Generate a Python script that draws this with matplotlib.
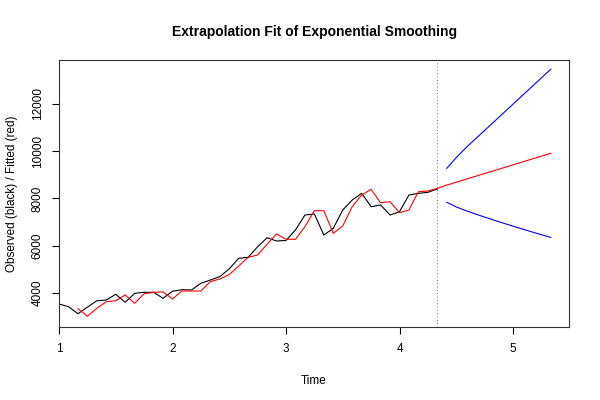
import matplotlib
matplotlib.use("Agg")
import matplotlib.pyplot as plt
import numpy as np

plt.rcParams['font.family'] = ['Liberation Sans', 'DejaVu Sans']

# monthly series, start = 1, frequency = 12
start = 1.0
freq = 12

observed = [3536, 3423, 3125, 3400, 3675, 3704, 3945, 3607, 3987, 4030,
            4030, 3776, 4075, 4140, 4127, 4409, 4549, 4690, 5020, 5466,
            5508, 5957, 6337, 6198, 6220, 6663, 7296, 7338, 6451, 6733,
            7508, 7930, 8212, 7647, 7719, 7296, 7436, 8142, 8212, 8255,
            8395]
# fitted values begin at the 3rd observation
fitted = [3337, 3020, 3353, 3633, 3675, 3916, 3565, 3970, 4030, 4045,
          3747, 4085, 4085, 4085, 4478, 4591, 4780, 5141, 5508, 5606,
          6058, 6493, 6275, 6268, 6803, 7479, 7479, 6522, 6832, 7647,
          8142, 8381, 7816, 7859, 7394, 7508, 8283, 8311, 8424]
forecast = [8560, 8682, 8805, 8927, 9049, 9171, 9294, 9416, 9538, 9661,
            9783, 9905]
upper = [9270, 9721, 10130, 10500, 10870, 11240, 11610, 11980, 12350,
         12720, 13090, 13460]
lower = [7833, 7638, 7483, 7343, 7208, 7078, 6950, 6825, 6702, 6582,
         6464, 6348]

n = len(observed)
t_obs = start + np.arange(n) / freq
t_fit = t_obs[n - len(fitted):]
t_fc = start + np.arange(n, n + len(forecast)) / freq

fig = plt.figure(figsize=(6, 4), dpi=100)
ax = fig.add_axes([59/600, 1 - 326.7/400, (569.3 - 59)/600, (326.7 - 60)/400])

lw = 0.8
ax.plot(t_obs, observed, color="black", lw=lw)
ax.plot(np.concatenate([t_fit, t_fc]), fitted + forecast, color="red", lw=lw)
ax.plot(t_fc, upper, color="blue", lw=lw)
ax.plot(t_fc, lower, color="blue", lw=lw)
ax.axvline(t_obs[-1], color="#444444", lw=0.6, linestyle=(0, (1, 3)))

ax.set_xlim(1.0, 5.496)
ax.set_ylim(2576, 13847)
ax.set_xticks([1, 2, 3, 4, 5])
ax.set_yticks([4000, 6000, 8000, 10000, 12000])
ax.set_yticklabels(["4000", "6000", "8000", "10000", "12000"],
                   rotation=90, va="center")
ax.tick_params(direction="out", length=5, width=0.8, labelsize=8.5,
               colors="black")
ax.tick_params(axis="x", pad=7)
ax.tick_params(axis="y", pad=6)
for s in ax.spines.values():
    s.set_linewidth(0.8)
    s.set_color("#333333")

ax.set_xlabel("Time", fontsize=8.5, labelpad=14)
ax.set_ylabel("Observed (black) / Fitted (red)", fontsize=8.5, labelpad=10)
ax.set_title("Extrapolation Fit of Exponential Smoothing", fontsize=10,
             fontweight="bold", pad=17)

fig.savefig("out.png", dpi=100)
